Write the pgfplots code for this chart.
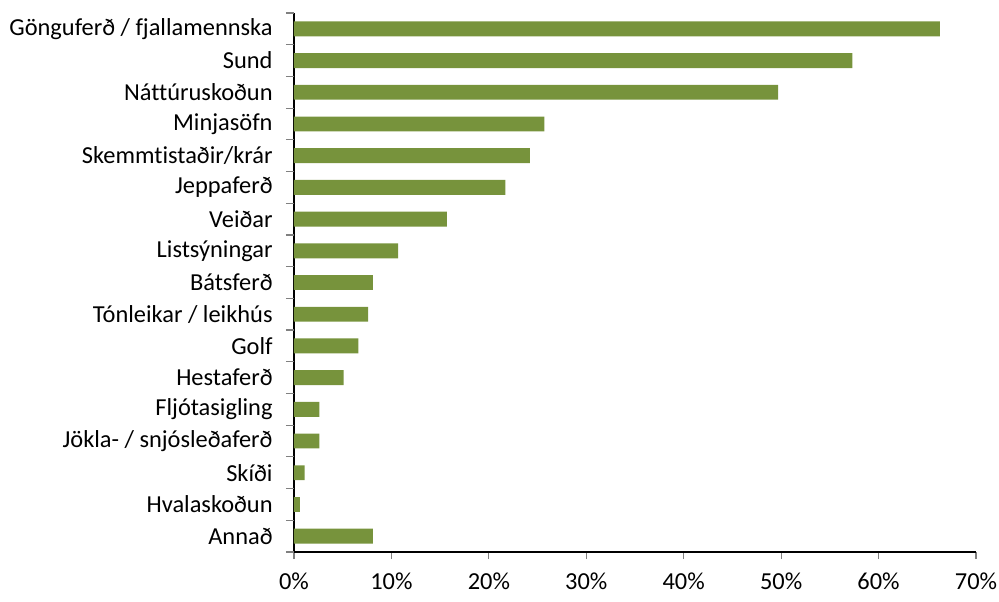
\documentclass[border=0pt]{standalone}
\usepackage{pgfplots}
\pgfplotsset{compat=1.18}
\usepackage{fontspec}
\setmainfont[Ligatures=NoCommon]{Carlito}
\definecolor{barolive}{RGB}{119,147,60}
\definecolor{tickgray}{RGB}{128,128,128}

\pgfplotstableread[col sep=comma]{
idx,value
0,66.3
1,57.3
2,49.7
3,25.7
4,24.2
5,21.7
6,15.7
7,10.7
8,8.1
9,7.6
10,6.6
11,5.1
12,2.6
13,2.6
14,1.1
15,0.6
16,8.1
}\activities

\begin{document}
\begin{tikzpicture}
\begin{axis}[
  scale only axis,
  width=341pt, height=269.5pt,
  xbar, bar width=0.47,
  y dir=reverse,
  xmin=0, xmax=70,
  ymin=-0.5, ymax=16.5,
  axis x line*=bottom,
  axis y line*=left,
  axis line style={black, line width=0.6pt},
  xtick={0,10,...,70},
  xticklabels={0\%,10\%,20\%,30\%,40\%,50\%,60\%,70\%},
  x tick style={tickgray, line width=0.6pt},
  tick align=outside,
  major tick length=3.5pt,
  xticklabel style={inner sep=0pt, yshift=-6.5pt, anchor=north},
  ytick={0,...,16},
  yticklabels={Gönguferð / fjallamennska, Sund, Náttúruskoðun, Minjasöfn,
    Skemmtistaðir/krár, Jeppaferð, Veiðar, Listsýningar, Bátsferð,
    Tónleikar / leikhús, Golf, Hestaferð, Fljótasigling,
    Jökla- / snjósleðaferð, Skíði, Hvalaskoðun, Annað},
  y tick style={draw=none},
  yticklabel style={inner sep=0pt, xshift=-7pt, anchor=east},
  extra y ticks={-0.5,0.5,...,16.5},
  extra y tick labels={},
  extra y tick style={y tick style={tickgray, line width=0.6pt, draw=tickgray}, major tick length=4pt},
  tick label style={font=\fontsize{12.2}{14}\selectfont},
  clip=false,
]
\addplot[draw=none, fill=barolive] table[x=value, y=idx] {\activities};
\coordinate (bl) at (rel axis cs:0,0);
\coordinate (tr) at (rel axis cs:1,1);
\end{axis}
\pgfresetboundingbox
\path ([xshift=-147pt, yshift=-24.5pt]bl) rectangle ([xshift=11.5pt, yshift=6.5pt]tr);
\end{tikzpicture}
\end{document}
